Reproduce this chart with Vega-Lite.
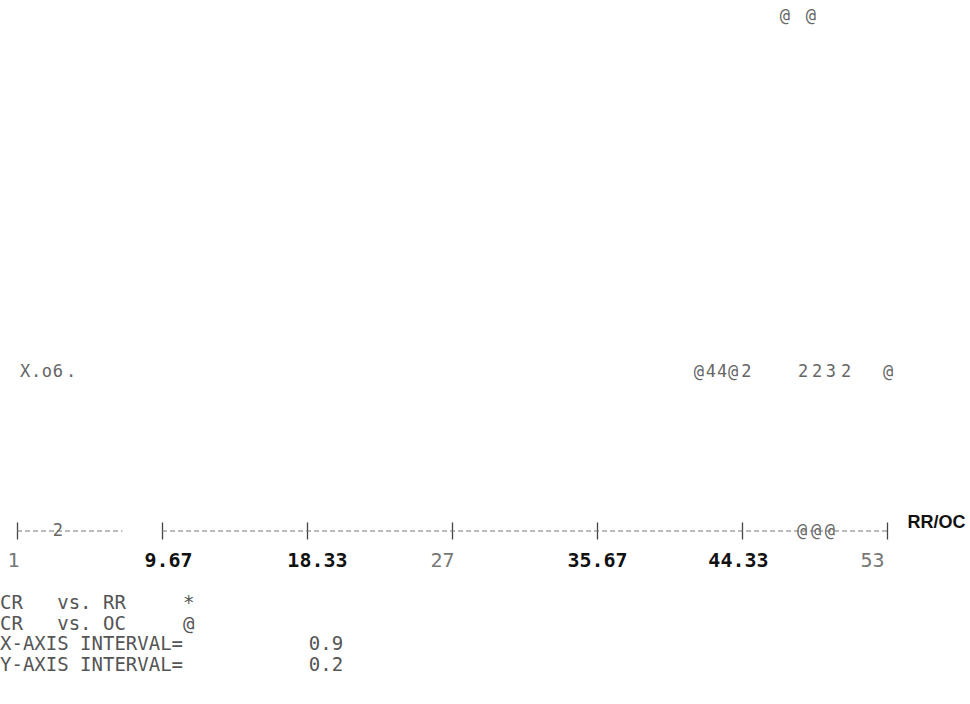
{
  "$schema": "https://vega.github.io/schema/vega-lite/v6.json",
  "width": 870,
  "height": 530,
  "autosize": {"type": "none"},
  "padding": {"left": 17, "top": 1, "right": 83, "bottom": 173},
  "background": "white",
  "config": {"view": {"stroke": null}},
  "title": {
    "text": [
      "CR\u00a0\u00a0\u00a0vs.\u00a0RR\u00a0\u00a0\u00a0\u00a0\u00a0*",
      "CR\u00a0\u00a0\u00a0vs.\u00a0OC\u00a0\u00a0\u00a0\u00a0\u00a0@",
      "X-AXIS\u00a0INTERVAL=\u00a0\u00a0\u00a0\u00a0\u00a0\u00a0\u00a0\u00a0\u00a0\u00a0\u00a00.9",
      "Y-AXIS\u00a0INTERVAL=\u00a0\u00a0\u00a0\u00a0\u00a0\u00a0\u00a0\u00a0\u00a0\u00a0\u00a00.2"
    ],
    "orient": "bottom",
    "anchor": "start",
    "frame": "group",
    "align": "left",
    "baseline": "top",
    "font": "DejaVu Sans Mono",
    "fontSize": 19,
    "fontWeight": "normal",
    "color": "#555",
    "lineHeight": 20.5,
    "offset": 24,
    "dx": -17
  },
  "encoding": {
    "x": {
      "field": "x", "type": "quantitative",
      "scale": {"domain": [1, 53], "nice": false, "zero": false},
      "axis": {
        "values": [1, 9.67, 18.33, 27, 35.67, 44.33, 53],
        "domain": false,
        "grid": false,
        "offset": -9,
        "ticks": true,
        "tickSize": 17,
        "tickColor": "#444",
        "tickWidth": 1.3,
        "labelPadding": 21,
        "labelBaseline": "middle",
        "labelFont": "DejaVu Sans Mono",
        "labelFontSize": 20,
        "labelFontWeight": {"condition": {"test": "datum.value == 1 || datum.value == 27 || datum.value == 53", "value": "normal"}, "value": "bold"},
        "labelColor": {"condition": {"test": "datum.value == 1 || datum.value == 27 || datum.value == 53", "value": "#777"}, "value": "#111"},
        "labelOffset": {"condition": [
          {"test": "datum.value == 1", "value": -4},
          {"test": "datum.value == 9.67", "value": 6},
          {"test": "datum.value == 18.33", "value": 10},
          {"test": "datum.value == 27", "value": -10},
          {"test": "datum.value == 44.33", "value": -4},
          {"test": "datum.value == 53", "value": -15}
        ], "value": 0},
        "labelExpr": "'' + datum.value",
        "labelFlush": false,
        "labelOverlap": false,
        "title": "RR/OC",
        "titleFont": "Liberation Sans",
        "titleFontSize": 18,
        "titleFontWeight": "bold",
        "titleColor": "#111",
        "titleX": 890,
        "titleY": 0,
        "titleAlign": "left",
        "titleBaseline": "middle",
        "titleAngle": 0,
        "titleAnchor": null
      }
    },
    "y": {"field": "y", "type": "quantitative", "scale": {"domain": [0, 5.35], "nice": false}, "axis": null}
  },
  "layer": [
    {
      "data": {"values": [
        {"x": 1, "x2": 7.3, "y": 0},
        {"x": 9.67, "x2": 53, "y": 0}
      ]},
      "mark": {"type": "rule", "strokeDash": [5, 3], "color": "#777", "strokeWidth": 1.2},
      "encoding": {
        "x2": {"field": "x2"}
      }
    },
    {
      "data": {"values": [
        {"x": 46.9, "y": 5.2, "ch": "@"},
        {"x": 48.45, "y": 5.2, "ch": "@"},
        {"x": 1.48, "y": 1.6, "ch": "X"},
        {"x": 2.14, "y": 1.6, "ch": "."},
        {"x": 2.79, "y": 1.6, "ch": "o"},
        {"x": 3.45, "y": 1.6, "ch": "6"},
        {"x": 4.23, "y": 1.6, "ch": "."},
        {"x": 41.76, "y": 1.6, "ch": "@"},
        {"x": 42.48, "y": 1.6, "ch": "4"},
        {"x": 43.14, "y": 1.6, "ch": "4"},
        {"x": 43.8, "y": 1.6, "ch": "@"},
        {"x": 44.6, "y": 1.6, "ch": "2"},
        {"x": 47.98, "y": 1.6, "ch": "2"},
        {"x": 48.82, "y": 1.6, "ch": "2"},
        {"x": 49.65, "y": 1.6, "ch": "3"},
        {"x": 50.55, "y": 1.6, "ch": "2"},
        {"x": 53.06, "y": 1.6, "ch": "@"},
        {"x": 3.45, "y": 0, "ch": "2"},
        {"x": 47.92, "y": 0, "ch": "@"},
        {"x": 48.76, "y": 0, "ch": "@"},
        {"x": 49.59, "y": 0, "ch": "@"}
      ]},
      "mark": {"type": "text", "font": "DejaVu Sans Mono", "fontSize": 17, "color": "#666", "align": "center", "baseline": "middle"},
      "encoding": {
        "text": {"field": "ch", "type": "nominal"}
      }
    }
  ]
}
